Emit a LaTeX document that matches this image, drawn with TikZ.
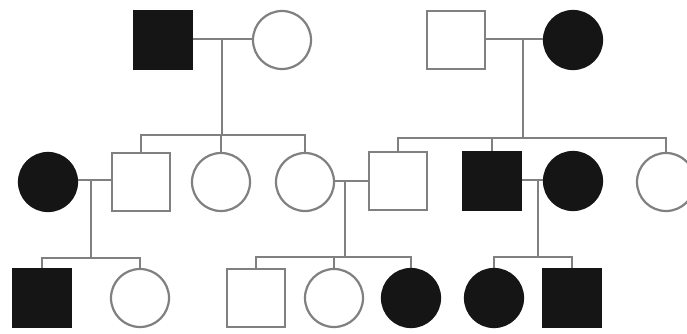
\documentclass[tikz,border=0pt]{standalone}
\begin{document}
\begin{tikzpicture}[x=1pt,y=-1pt,
  line/.style={draw=linegray,line width=2.2pt},
  male/.style={rectangle,minimum size=58pt,inner sep=0pt,draw=linegray,line width=2.2pt,fill=white},
  female/.style={circle,minimum size=58pt,inner sep=0pt,draw=linegray,line width=2.2pt,fill=white},
  aff/.style={fill=nearblack,draw=nearblack}]
\definecolor{linegray}{HTML}{808080}
\definecolor{nearblack}{HTML}{151515}
\useasboundingbox (0,0) rectangle (687,333);
\clip (0,0) rectangle (687,333);
% generation I
\node[male,aff]  (A) at (163,40) {};
\node[female]    (B) at (282,40) {};
\node[male]      (C) at (456,40) {};
\node[female,aff](D) at (573,40) {};
% generation II
\node[female,aff](E) at (48,182) {};
\node[male]      (F) at (141,182) {};
\node[female]    (G) at (221,182) {};
\node[female]    (H) at (305,182) {};
\node[male]      (I) at (398,181) {};
\node[male,aff]  (J) at (492,181) {};
\node[female,aff](K) at (573,181) {};
\node[female]    (L) at (666,182) {};
% generation III
\node[male,aff]  (M) at (42,298) {};
\node[female]    (N) at (140,298) {};
\node[male]      (O) at (256,298) {};
\node[female]    (P) at (334,298) {};
\node[female,aff](Q) at (411,298) {};
\node[female,aff](R) at (494,298) {};
\node[male,aff]  (S) at (572,298) {};
% mating and sibship junctions
\coordinate (m1) at (222,39);  \coordinate (s1) at (222,135);
\coordinate (m2) at (523,39);  \coordinate (s2) at (523,138);
\coordinate (m3) at (91,180);  \coordinate (s3) at (91,258);
\coordinate (m4) at (345,181); \coordinate (s4) at (345,257);
\coordinate (m5) at (538,180); \coordinate (s5) at (538,257);
% family 1
\draw[line] (A.east |- m1) -- (B.west |- m1);
\draw[line] (m1) -- (s1);
\draw[line] (F.north) -- (F.north |- s1) -- (H.north |- s1) -- (H.north);
\draw[line] (G.north) -- (G.north |- s1);
% family 2
\draw[line] (C.east |- m2) -- (D.west |- m2);
\draw[line] (m2) -- (s2);
\draw[line] (I.north) -- (I.north |- s2) -- (L.north |- s2) -- (L.north);
\draw[line] (J.north) -- (J.north |- s2);
% family 3
\draw[line] (E.east |- m3) -- (F.west |- m3);
\draw[line] (m3) -- (s3);
\draw[line] (M.north) -- (M.north |- s3) -- (N.north |- s3) -- (N.north);
% family 4
\draw[line] (H.east |- m4) -- (I.west |- m4);
\draw[line] (m4) -- (s4);
\draw[line] (O.north) -- (O.north |- s4) -- (Q.north |- s4) -- (Q.north);
\draw[line] (P.north) -- (P.north |- s4);
% family 5
\draw[line] (J.east |- m5) -- (K.west |- m5);
\draw[line] (m5) -- (s5);
\draw[line] (R.north) -- (R.north |- s5) -- (S.north |- s5) -- (S.north);
\end{tikzpicture}
\end{document}
